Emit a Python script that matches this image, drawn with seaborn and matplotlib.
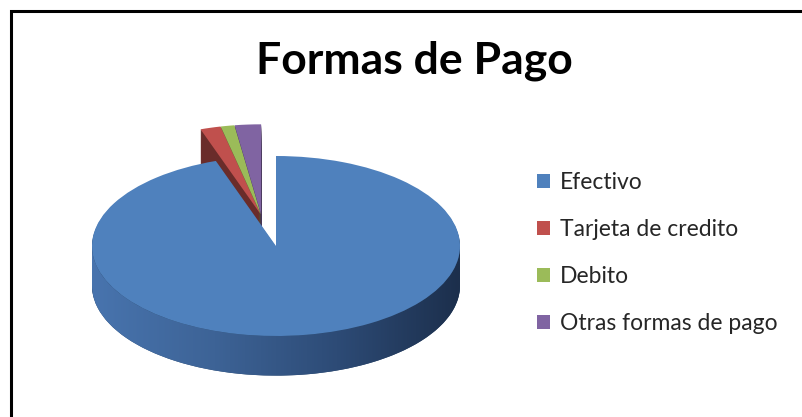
import numpy as np
import matplotlib
matplotlib.use('Agg')
import matplotlib.pyplot as plt
import matplotlib.colors as mcolors
from matplotlib.patches import Rectangle, PathPatch
from matplotlib.path import Path
import seaborn as sns

# ---- data ----
labels = ['Efectivo', 'Tarjeta de credito', 'Debito', 'Otras formas de pago']
shares = [94.7, 1.8, 1.2, 2.3]
colors = ['#4F81BD', '#C0504D', '#9BBB59', '#8064A2']
title = 'Formas de Pago'

sns.set_theme(style='white')
plt.rcParams['font.family'] = ['Lato', 'DejaVu Sans']

W, H = 803, 417
fig = plt.figure(figsize=(W / 100, H / 100), dpi=100)
fig.patch.set_facecolor('white')

# pie geometry in pixels (centre, radii) and the axes box
cx, cy, rx, ry = 276, 246, 184, 90
depth = 0.44
pull = (-0.08, 0.34)   # the small slices are pulled out together
ax_l, ax_r, ax_t, ax_b = 0, 552, 100, 410
ax = fig.add_axes([ax_l / W, 1 - ax_b / H, (ax_r - ax_l) / W, (ax_b - ax_t) / H])


def shade(c, f):
    r, g, b = mcolors.to_rgb(c)
    return (r * f, g * f, b * f)


def layer(dz, cols, z):
    ws, _ = ax.pie(shares, colors=cols, explode=[0, 0.012, 0.012, 0.012],
                   startangle=90, counterclock=False, center=(0, -dz), radius=1,
                   wedgeprops=dict(linewidth=0, zorder=z))
    for w in ws[1:]:
        x0, y0 = w.center
        w.set_center((x0 + pull[0], y0 + pull[1]))
    return ws


# side of the cylinder: stacked darker pies
side_colors = [shade(c, 0.55) for c in colors]
for dz in np.linspace(depth, 0.0, 40, endpoint=False):
    layer(dz, side_colors, 1)

# horizontal shading on the front band
t = np.linspace(np.pi, 2 * np.pi, 200)
top = np.column_stack([np.cos(t), np.sin(t)])
bot = np.column_stack([np.cos(t[::-1]), np.sin(t[::-1]) - depth])
band = Path(np.vstack([top, bot, top[:1]]), closed=True)
grad = np.linspace(0, 1, 256)[None, :]
cmap = mcolors.LinearSegmentedColormap.from_list(
    'side', ['#4874ae', '#3d6396', '#2d4b76', '#1c2f4c'])
im = ax.imshow(grad, cmap=cmap, extent=(-1, 1, -1 - depth, 0), aspect='auto',
               zorder=2, interpolation='bilinear')
clip = PathPatch(band, transform=ax.transData, facecolor='none', edgecolor='none')
ax.add_patch(clip)
im.set_clip_path(clip)

# top face
wedges = layer(0, colors, 3)

ax.set_aspect('auto')
ax.set_xlim((ax_l - cx) / rx, (ax_r - cx) / rx)
ax.set_ylim((cy - ax_b) / ry, (cy - ax_t) / ry)
ax.axis('off')

fig.text(414 / W, 1 - 61 / H, title, ha='center', va='center',
         fontsize=32, fontweight='bold', color='black')

fig.legend(wedges, labels, loc='upper left', bbox_to_anchor=(537 / W, 1 - 172 / H),
           frameon=False, fontsize=16.5, handlelength=0.55, handleheight=0.55,
           labelspacing=1.14, handletextpad=0.44, borderaxespad=0, borderpad=0)

fig.add_artist(Rectangle((11 / W, -0.1), 1.2, 1 - 11 / H + 0.1,
                         transform=fig.transFigure, fill=False,
                         edgecolor='black', linewidth=2.2))

fig.savefig('out.png', dpi=100)
